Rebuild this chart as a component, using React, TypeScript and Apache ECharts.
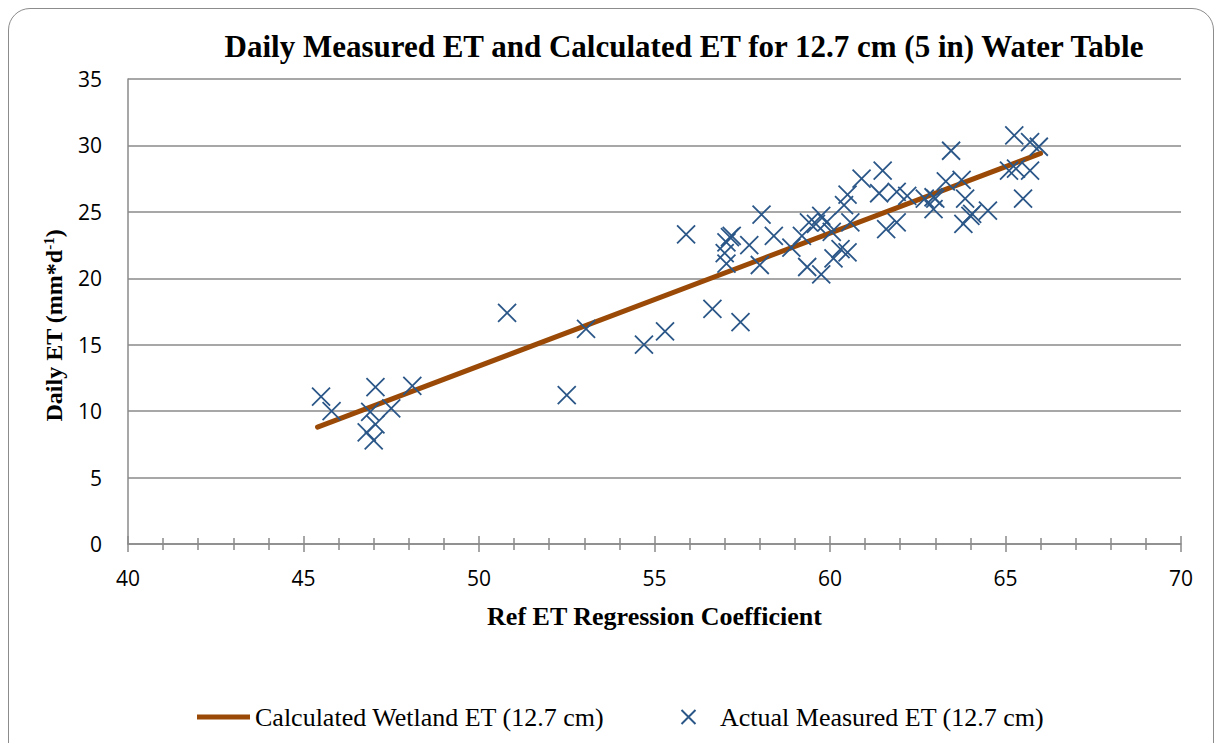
import React, { useEffect, useRef } from "react";
import * as echarts from "echarts";

const titleText = "Daily Measured ET and Calculated ET for 12.7 cm (5 in) Water Table";
const xAxisName = "Ref ET Regression Coefficient";
const calcName = "Calculated Wetland ET (12.7 cm)";
const measName = "Actual Measured ET (12.7 cm)";

const calcX = [45.4, 66.0];
const calcY = [8.8, 29.4];

const measuredX = [
  45.5, 45.8, 47.05, 48.1, 46.9, 47.5, 47.05, 46.8, 47.0,
  50.8, 52.5, 53.05, 54.7, 55.3, 55.9, 56.65, 57.45,
  57.2, 57.15, 57.05, 57.0, 57.05, 57.7, 58.4, 58.05, 58.0, 58.9, 59.2, 59.35, 59.75,
  59.75, 59.4, 59.6, 59.9, 60.58, 60.05, 60.3, 60.5, 60.1, 60.4, 60.5, 60.9, 61.5, 61.4, 61.9, 62.2,
  61.6, 61.9, 62.7, 63.0, 62.95, 63.3, 63.45, 63.75, 63.85, 62.95,
  64.05, 64.5, 63.8, 64.0,
  65.25, 65.7, 65.95, 65.1, 65.3, 65.7, 65.5,
];
const measuredY = [
  11.1, 10.0, 11.8, 11.9, 9.95, 10.2, 9.0, 8.4, 7.8,
  17.4, 11.2, 16.2, 15.0, 16.0, 23.3, 17.7, 16.7,
  23.2, 23.1, 22.7, 21.9, 21.1, 22.5, 23.2, 24.8, 21.0, 22.3, 23.2, 20.85, 20.3,
  24.7, 24.2, 24.1, 24.2, 24.2, 23.5, 22.2, 21.95, 21.5, 25.5, 26.3, 27.5, 28.1, 26.4, 26.5, 26.2,
  23.7, 24.2, 26.0, 26.0, 25.2, 27.3, 29.6, 27.4, 26.0, 26.1,
  24.85, 25.1, 24.1, 24.7,
  30.75, 30.25, 29.9, 28.1, 28.25, 28.1, 26.0,
];

const yTicks = [0, 5, 10, 15, 20, 25, 30, 35];
const xTicks = [40, 45, 50, 55, 60, 65, 70];

export default function App() {
  const ref = useRef<HTMLDivElement>(null);
  useEffect(() => {
    if (!ref.current) return;
    const chart = echarts.init(ref.current, null, { renderer: "svg" });
    const gray = "#8a8a8a";
    const serif = "'Liberation Serif', 'Times New Roman', serif";
    const sans = "'Open Sans', sans-serif";
    const brown = "#9A4A06";
    const xMin = xTicks[0];
    const xMax = xTicks[xTicks.length - 1];
    const yMin = yTicks[0];
    const yMax = yTicks[yTicks.length - 1];
    chart.setOption({
      animation: false,
      textStyle: { fontFamily: serif },
      graphic: [
        {
          type: "text",
          x: 676,
          y: 38,
          style: {
            text: titleText,
            font: `bold 31px ${serif}`,
            fill: "#000",
            textAlign: "center",
            textVerticalAlign: "middle",
          },
        },
      ],
      grid: { left: 120, top: 71, right: 33, bottom: 207 },
      legend: {
        left: 189,
        top: 696,
        padding: 0,
        itemWidth: 53,
        itemHeight: 14,
        itemGap: 76,
        symbolKeepAspect: true,
        textStyle: { fontFamily: serif, fontSize: 26, color: "#000" },
        data: [
          { name: calcName, icon: "path://M0,0L53,0L53,5L0,5Z" },
          { name: measName },
        ],
      },
      xAxis: [
        {
          type: "value",
          min: xMin,
          max: xMax,
          interval: 5,
          name: xAxisName,
          nameLocation: "middle",
          nameGap: 59,
          nameTextStyle: { fontFamily: serif, fontSize: 26, fontWeight: "bold", color: "#000" },
          axisLine: { show: true, lineStyle: { color: gray, width: 1.5 } },
          axisTick: { show: true, length: 8, lineStyle: { color: gray, width: 1.5 } },
          minorTick: { show: true, splitNumber: 5, length: 6, lineStyle: { color: gray, width: 1.5 } },
          axisLabel: { fontFamily: sans, fontSize: 21, color: "#000", margin: 23 },
          splitLine: { show: false },
        },
        {
          type: "value",
          min: xMin,
          max: xMax,
          interval: 5,
          position: "bottom",
          axisLine: { show: false },
          axisTick: { show: true, inside: true, length: 8, lineStyle: { color: gray, width: 1.5 } },
          minorTick: { show: true, splitNumber: 5, length: 6, lineStyle: { color: gray, width: 1.5 } },
          axisLabel: { show: false },
          splitLine: { show: false },
        },
      ],
      yAxis: {
        type: "value",
        min: yMin,
        max: yMax,
        interval: 5,
        name: "{n|Daily ET (mm*d}{s|-1}{n|)}",
        nameLocation: "middle",
        nameGap: 62,
        nameRotate: 90,
        nameTextStyle: {
          color: "#000",
          padding: [0, 28, 0, 0],
          rich: {
            n: { fontFamily: serif, fontSize: 24, fontWeight: "bold", color: "#000" },
            s: { fontFamily: serif, fontSize: 15, fontWeight: "bold", color: "#000", verticalAlign: "top", padding: [0, 0, 10, 0] },
          },
        },
        axisLine: { show: true, lineStyle: { color: gray, width: 1.5 } },
        axisTick: { show: false },
        axisLabel: { fontFamily: sans, fontSize: 21, color: "#000", margin: 26 },
        splitLine: { show: true, lineStyle: { color: gray, width: 1.5 } },
      },
      series: [
        {
          name: calcName,
          type: "line",
          xAxisIndex: 0,
          data: calcX.map((x, i) => [x, calcY[i]]),
          symbol: "none",
          lineStyle: { color: brown, width: 5, cap: "round" },
          itemStyle: { color: brown },
          z: 3,
        },
        {
          name: measName,
          type: "scatter",
          xAxisIndex: 0,
          data: measuredX.map((x, i) => [x, measuredY[i]]),
          symbol: "path://M0,0L10,10M10,0L0,10",
          symbolSize: 18,
          symbolKeepAspect: true,
          itemStyle: { color: "transparent", borderColor: "#2B5788", borderWidth: 1.8, opacity: 1 },
          z: 4,
        },
      ],
    });
    return () => chart.dispose();
  }, []);
  return (
    <div style={{ position: "relative", width: 1206, height: 743, marginBottom: -8, overflow: "hidden", background: "#fff" }}>
      <div ref={ref} style={{ position: "absolute", left: 0, top: 0, width: 1206, height: 743 }} />
      <div
        style={{
          position: "absolute",
          left: 0,
          top: 0,
          width: 1206,
          height: 800,
          boxSizing: "border-box",
          border: "1.5px solid #8c8c8c",
          borderRadius: 22,
          pointerEvents: "none",
        }}
      />
    </div>
  );
}
